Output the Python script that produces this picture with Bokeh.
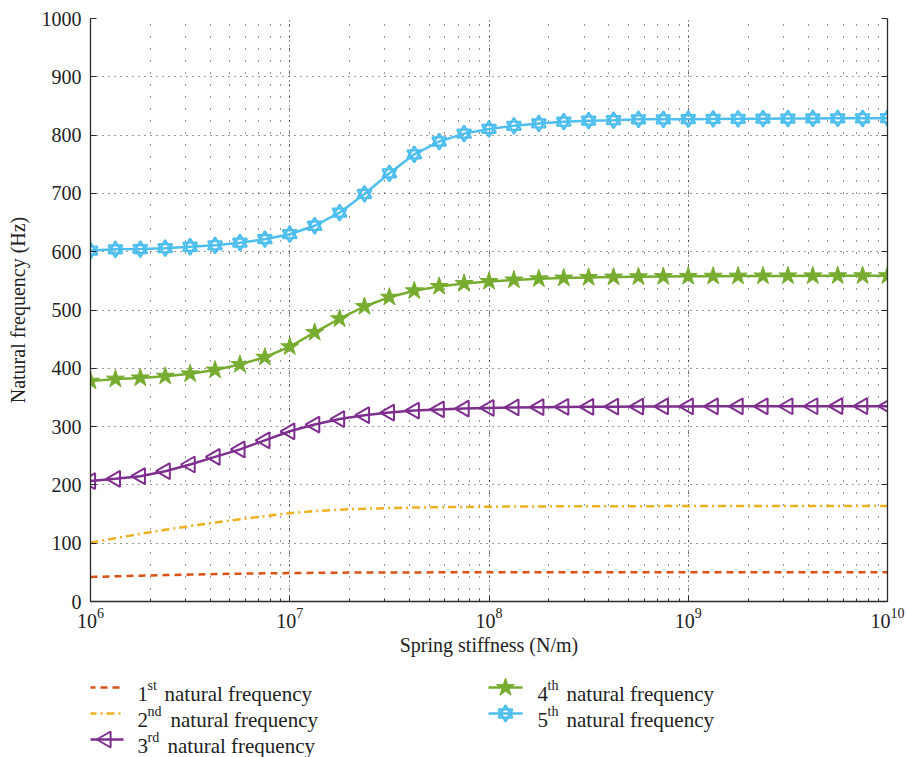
from math import pi

from bokeh.core.properties import value
from bokeh.embed import file_html
from bokeh.layouts import column
from bokeh.models import (CustomJSTickFormatter, LinearAxis, LogTicker, Range1d,
                          SingleIntervalTicker)
from bokeh.plotting import figure
from bokeh.resources import INLINE

# Spring stiffness sample points (N/m), eight per decade
stiffness = [
    1.0000e6, 1.3335e6, 1.7783e6, 2.3714e6, 3.1623e6, 4.2170e6, 5.6234e6, 7.4989e6,
    1.0000e7, 1.3335e7, 1.7783e7, 2.3714e7, 3.1623e7, 4.2170e7, 5.6234e7, 7.4989e7,
    1.0000e8, 1.3335e8, 1.7783e8, 2.3714e8, 3.1623e8, 4.2170e8, 5.6234e8, 7.4989e8,
    1.0000e9, 1.3335e9, 1.7783e9, 2.3714e9, 3.1623e9, 4.2170e9, 5.6234e9, 7.4989e9,
    1.0000e10,
]

# Natural frequencies (Hz) of the first five modes
freq_1 = [42.0, 43.2, 44.3, 45.3, 46.2, 47.0, 47.7, 48.3, 48.8, 49.2, 49.5, 49.7, 49.8,
          49.9, 50.0, 50.0, 50.1, 50.1, 50.1, 50.2, 50.2, 50.2, 50.2, 50.2, 50.3, 50.3,
          50.3, 50.3, 50.3, 50.3, 50.3, 50.3, 50.3]
freq_2 = [101.0, 108.5, 116.0, 123.0, 129.5, 135.5, 141.0, 146.5, 151.5, 155.0, 157.5,
          159.2, 160.3, 161.1, 161.7, 162.2, 162.6, 162.9, 163.1, 163.3, 163.4, 163.5,
          163.5, 163.6, 163.6, 163.7, 163.7, 163.7, 163.8, 163.8, 163.8, 163.8, 163.8]
freq_3 = [206.5, 210.5, 215.0, 223.5, 235.0, 248.0, 261.0, 276.5, 292.0, 303.5, 313.0,
          319.5, 324.0, 327.5, 329.5, 331.0, 332.0, 332.8, 333.3, 333.7, 334.0, 334.2,
          334.4, 334.5, 334.6, 334.7, 334.8, 334.8, 334.9, 334.9, 335.0, 335.0, 335.0]
freq_4 = [378.0, 381.5, 383.5, 386.5, 390.5, 397.0, 406.5, 419.0, 437.0, 461.5, 485.0,
          506.0, 522.0, 533.0, 540.5, 545.5, 549.0, 551.5, 553.5, 554.8, 555.8, 556.5,
          557.0, 557.4, 557.7, 558.0, 558.2, 558.4, 558.5, 558.6, 558.7, 558.8, 558.9]
freq_5 = [602.0, 604.0, 604.5, 606.0, 608.5, 611.0, 615.5, 621.5, 630.0, 644.5, 667.0,
          699.0, 734.5, 767.0, 789.0, 802.5, 810.5, 816.0, 820.0, 823.0, 824.8, 825.5,
          827.0, 827.0, 827.3, 827.7, 828.0, 828.2, 828.4, 828.6, 828.7, 828.8, 829.0]

# Legend entries: ordinal number, superscript suffix
legend_ordinals = ["1", "2", "3", "4", "5"]
legend_suffixes = ["st", "nd", "rd", "th", "th"]
legend_text = "natural frequency"

x_label = "Spring stiffness (N/m)"
y_label = "Natural frequency (Hz)"

C1, C2, C3, C4, C5 = "#D95319", "#EDB120", "#7E2F8E", "#77AC30", "#4DBEEE"
SERIF = "Liberation Serif"
AX = "#2b2b2b"
TXT = "#222222"

FRAME_W, FRAME_H = 797, 583
LEFT, RIGHT, TOP, BOTTOM = 90, 19, 18, 56

p = figure(
    x_axis_type="log",
    x_range=Range1d(1e6, 1e10),
    y_range=Range1d(0, 1000),
    frame_width=FRAME_W,
    frame_height=FRAME_H,
    min_border_left=LEFT,
    min_border_right=RIGHT,
    min_border_top=TOP,
    min_border_bottom=BOTTOM,
    toolbar_location=None,
    output_backend="svg",
)
p.outline_line_color = None
p.background_fill_color = "white"

# grids: dotted major lines, sparser dotted minor verticals
p.xgrid.grid_line_color = "#333333"
p.xgrid.grid_line_dash = "1 4"
p.xgrid.grid_line_width = 1
p.xgrid.minor_grid_line_color = "#333333"
p.xgrid.minor_grid_line_dash = "1 11"
p.xgrid.minor_grid_line_width = 1
p.ygrid.grid_line_color = "#333333"
p.ygrid.grid_line_dash = "1 5"
p.ygrid.grid_line_width = 1

p.xaxis.ticker = LogTicker(num_minor_ticks=10)
p.yaxis.ticker = SingleIntervalTicker(interval=100, num_minor_ticks=0)
p.ygrid.ticker = p.yaxis.ticker

for ax in (p.xaxis[0], p.yaxis[0]):
    ax.axis_line_color = AX
    ax.axis_line_width = 1.3
    ax.major_tick_line_color = AX
    ax.major_tick_in = 6
    ax.major_tick_out = 0
    ax.minor_tick_line_color = AX
    ax.minor_tick_in = 3
    ax.minor_tick_out = 0
    ax.major_label_text_font = SERIF
    ax.major_label_text_font_size = "20px"
    ax.major_label_text_color = TXT
    ax.axis_label_text_font = SERIF
    ax.axis_label_text_font_size = "20px"
    ax.axis_label_text_font_style = "normal"
    ax.axis_label_text_color = TXT

p.yaxis.minor_tick_line_color = None
p.xaxis.axis_label = x_label
p.yaxis.axis_label = y_label
p.xaxis.major_label_standoff = 6
p.xaxis.axis_label_standoff = 3
p.yaxis.major_label_standoff = 9
p.yaxis.axis_label_standoff = 10

# right-hand box edge with inward ticks, no labels
right = LinearAxis(
    ticker=SingleIntervalTicker(interval=100, num_minor_ticks=0),
    formatter=CustomJSTickFormatter(code="return ''"),
    axis_line_color=AX,
    axis_line_width=1.3,
    major_tick_line_color=AX,
    major_tick_in=6,
    major_tick_out=0,
    minor_tick_line_color=None,
    major_label_standoff=0,
)
p.add_layout(right, "right")

# curves
p.line(stiffness, freq_1, line_color=C1, line_width=2.5, line_dash="7 5")
p.line(stiffness, freq_2, line_color=C2, line_width=2.5, line_dash="8 4 2 4")

p.line(stiffness, freq_3, line_color=C3, line_width=2.5)
p.scatter(stiffness, freq_3, marker="triangle", angle=pi / 2, size=16,
          fill_color=None, line_color=C3, line_width=2)

p.line(stiffness, freq_4, line_color=C4, line_width=2.5)
p.scatter(stiffness, freq_4, marker="star", size=19,
          fill_color=C4, line_color=C4, line_width=1)

p.line(stiffness, freq_5, line_color=C5, line_width=2.5)
for mk in ("triangle", "inverted_triangle"):
    p.scatter(stiffness, freq_5, marker=mk, size=14,
              fill_color=None, line_color=C5, line_width=2.2)

# legend panel below the axes; its x range is in page pixels
LH = 100
leg = figure(
    frame_width=FRAME_W, frame_height=LH,
    min_border_left=LEFT, min_border_right=RIGHT,
    min_border_top=0, min_border_bottom=0,
    x_range=Range1d(LEFT, LEFT + FRAME_W), y_range=Range1d(LH, 0),
    x_axis_location=None, y_axis_location=None,
    toolbar_location=None, output_backend="svg",
)
leg.grid.visible = False
leg.outline_line_color = None

rows = [
    # sample x0, x1, row y, ordinal x, suffix x, text x
    (88, 123, 29, 137, 147, 164),
    (88, 123, 55, 137, 147, 170),
    (88, 123, 81, 137, 147, 167),
    (488, 522, 29, 537, 547, 566),
    (488, 522, 55, 537, 547, 566),
]
styles = [
    dict(line_color=C1, line_width=2.5, line_dash="7 5"),
    dict(line_color=C2, line_width=2.5, line_dash="8 4 2 4"),
    dict(line_color=C3, line_width=2.5),
    dict(line_color=C4, line_width=2.5),
    dict(line_color=C5, line_width=2.5),
]
for i, (x0, x1, yy, xo, xs, xt) in enumerate(rows):
    leg.line([x0, x1], [yy, yy], **styles[i])
    xm = (x0 + x1) / 2
    if i == 2:
        leg.scatter([xm], [yy], marker="triangle", angle=pi / 2, size=16,
                    fill_color=None, line_color=C3, line_width=2)
    elif i == 3:
        leg.scatter([xm], [yy], marker="star", size=19, fill_color=C4,
                    line_color=C4, line_width=1)
    elif i == 4:
        for mk in ("triangle", "inverted_triangle"):
            leg.scatter([xm], [yy], marker=mk, size=14, fill_color=None,
                        line_color=C5, line_width=2.2)
    leg.text([xo], [yy + 6], text=[legend_ordinals[i]], text_font=value(SERIF),
             text_font_size="21px", text_baseline="alphabetic", text_color=TXT)
    leg.text([xs], [yy - 2], text=[legend_suffixes[i]], text_font=value(SERIF),
             text_font_size="14px", text_baseline="alphabetic", text_color=TXT)
    leg.text([xt], [yy + 6], text=[legend_text], text_font=value(SERIF),
             text_font_size="21px", text_baseline="alphabetic", text_color=TXT)

layout = column(p, leg, spacing=0)
open("out.html", "w").write(file_html(layout, INLINE))
